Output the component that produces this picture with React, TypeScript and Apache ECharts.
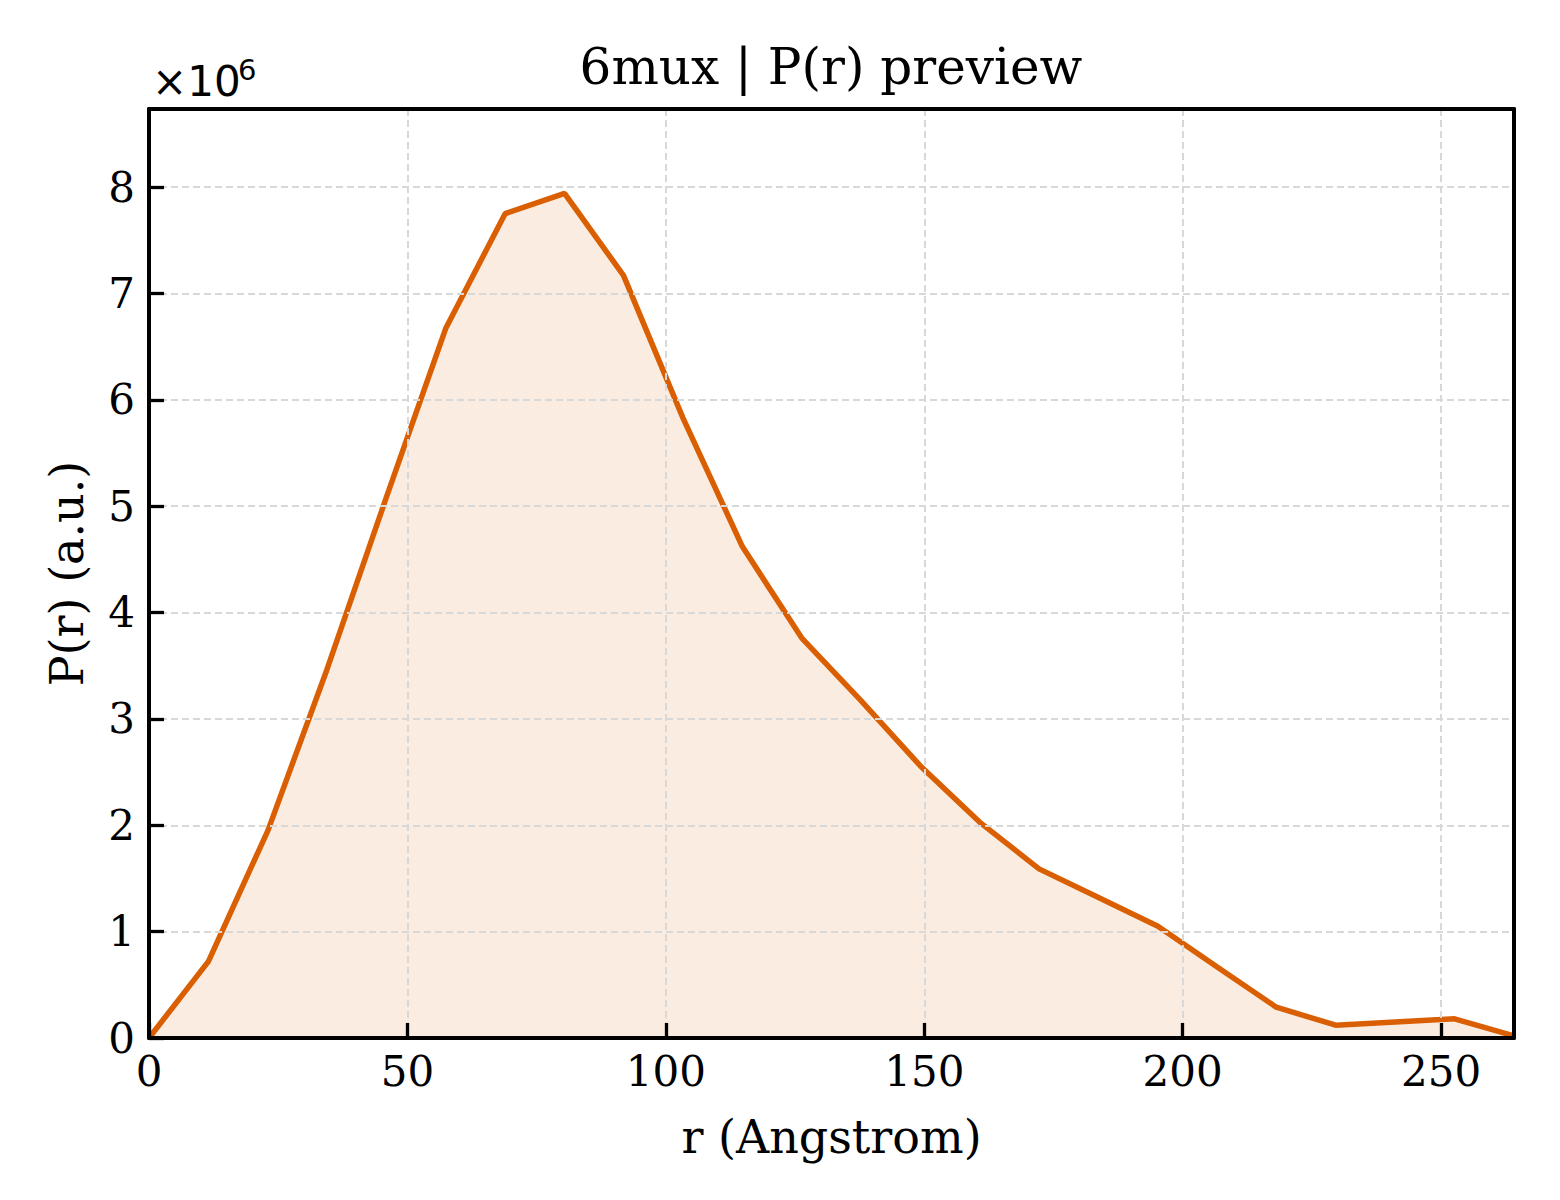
import { useEffect, useRef } from "react";
import * as echarts from "echarts";

// r in Angstrom, P(r) in units of 1e6
const rValues = [
    0, 11.5, 23.0, 34.4, 45.9, 57.4, 68.9, 80.4, 91.8, 103.3, 114.8, 126.3,
    137.8, 149.2, 160.7, 172.2, 183.7, 195.2, 206.6, 218.1, 229.6, 241.1, 252.6, 264.1,
];
const prValues = [
    0, 0.72, 1.95, 3.46, 5.08, 6.67, 7.75, 7.94, 7.17, 5.83, 4.62, 3.76,
    3.17, 2.56, 2.03, 1.59, 1.32, 1.05, 0.67, 0.29, 0.12, 0.15, 0.18, 0.02,
];
const xTicks = [0, 50, 100, 150, 200, 250];
const yTicks = [0, 1, 2, 3, 4, 5, 6, 7, 8];

const SERIF = "DejaVu Serif";
const LINE_COLOR = "#d95f02";
const SPINE = { show: true, onZero: false, lineStyle: { color: "#000", width: 4 } };

export default function App() {
    const chartRef = useRef<HTMLDivElement>(null);

    useEffect(() => {
        document.body.style.margin = "0";
        if (!chartRef.current) return;
        const chart = echarts.init(chartRef.current, undefined, { renderer: "svg" });

        const xMax = rValues[rValues.length - 1];
        const yMax = Math.max(...prValues) * 1.1;

        const tickStyle = {
            show: true,
            inside: true,
            length: 15,
            lineStyle: { color: "#000", width: 3.3 },
        };
        const gridLines = {
            show: true,
            lineStyle: { color: "#d8d8d8", width: 2, type: [7, 4] as number[] },
        };

        const options: echarts.EChartsOption = {
            animation: false,
            backgroundColor: "#fff",
            title: {
                text: "6mux | P(r) preview",
                left: 831,
                top: 42,
                textAlign: "center",
                padding: 0,
                textStyle: {
                    fontFamily: SERIF,
                    fontSize: 50,
                    lineHeight: 50,
                    fontWeight: "normal",
                    color: "#000",
                },
            },
            grid: { left: 149, right: 46, top: 109, bottom: 162 },
            xAxis: [
                {
                    type: "value",
                    min: 0,
                    max: xMax,
                    interval: 50,
                    name: "r (Angstrom)",
                    nameLocation: "middle",
                    nameGap: 76,
                    nameTextStyle: { fontFamily: SERIF, fontSize: 46, color: "#000", lineHeight: 46 },
                    axisLine: SPINE,
                    axisTick: tickStyle,
                    axisLabel: {
                        fontFamily: SERIF,
                        fontSize: 42,
                        color: "#000",
                        margin: 12,
                        showMaxLabel: false,
                        formatter: (v: number) => (xTicks.includes(v) ? String(v) : ""),
                    },
                    splitLine: gridLines,
                    z: 5,
                },
                {
                    type: "value",
                    position: "top",
                    min: 0,
                    max: xMax,
                    axisLine: SPINE,
                    axisTick: { show: false },
                    axisLabel: { show: false },
                    splitLine: { show: false },
                    z: 5,
                },
            ],
            yAxis: [
                {
                    type: "value",
                    min: 0,
                    max: yMax,
                    interval: 1,
                    name: "P(r) (a.u.)",
                    nameLocation: "middle",
                    nameGap: 59,
                    nameTextStyle: { fontFamily: SERIF, fontSize: 46, color: "#000", lineHeight: 46 },
                    axisLine: SPINE,
                    axisTick: tickStyle,
                    axisLabel: {
                        fontFamily: SERIF,
                        fontSize: 42,
                        color: "#000",
                        margin: 14,
                        showMaxLabel: false,
                        formatter: (v: number) => (yTicks.includes(v) ? String(v) : ""),
                    },
                    splitLine: gridLines,
                    z: 5,
                },
                {
                    type: "value",
                    position: "right",
                    min: 0,
                    max: yMax,
                    axisLine: SPINE,
                    axisTick: { show: false },
                    axisLabel: { show: false },
                    splitLine: { show: false },
                    z: 5,
                },
            ],
            graphic: [
                {
                    type: "text",
                    x: 152,
                    y: 81,
                    style: {
                        text: "×10",
                        fontFamily: "DejaVu Sans",
                        fontSize: 42,
                        fill: "#000",
                        verticalAlign: "middle",
                    },
                },
                {
                    type: "text",
                    x: 238,
                    y: 70,
                    style: {
                        text: "6",
                        fontFamily: "DejaVu Sans",
                        fontSize: 29,
                        fill: "#000",
                        verticalAlign: "middle",
                    },
                },
            ],
            series: [
                {
                    type: "line",
                    xAxisIndex: 0,
                    yAxisIndex: 0,
                    data: rValues.map((r, i) => [r, prValues[i]]),
                    showSymbol: false,
                    symbol: "none",
                    lineStyle: { color: LINE_COLOR, width: 5.5 },
                    areaStyle: { color: LINE_COLOR, opacity: 0.12 },
                    z: 3,
                },
            ],
            tooltip: { show: false },
        };

        chart.setOption(options);
        return () => {
            chart.dispose();
        };
    }, []);

    return <div ref={chartRef} style={{ width: "1560px", height: "1200px" }} />;
}
